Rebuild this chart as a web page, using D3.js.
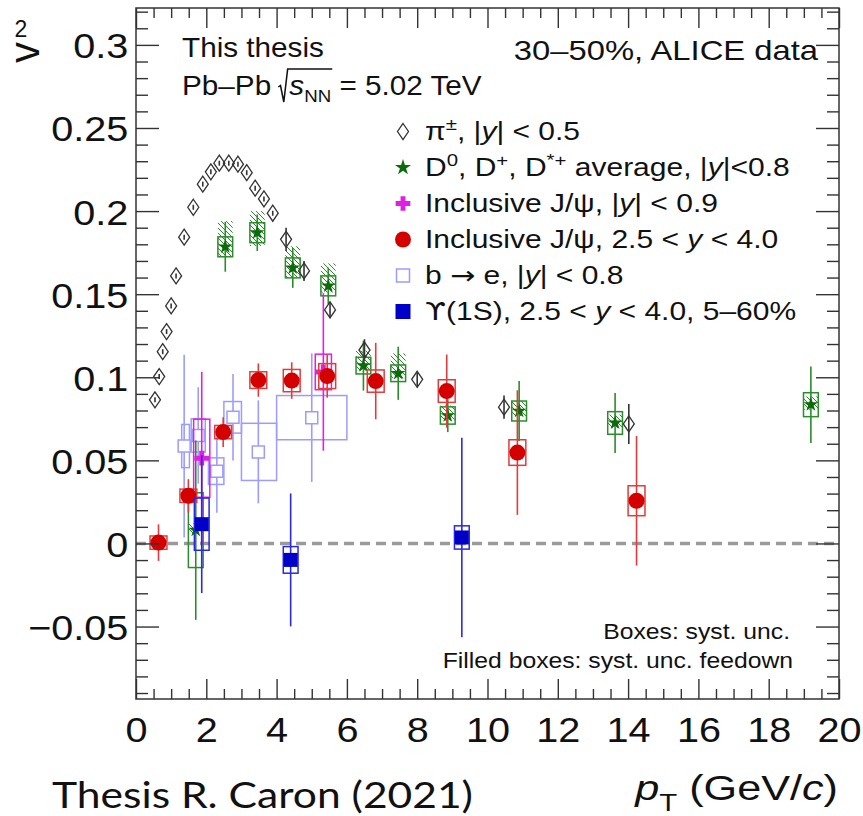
<!DOCTYPE html>
<html>
<head>
<meta charset="utf-8">
<script src="https://cdn.jsdelivr.net/npm/d3@7"></script>
<style>
    body { margin: 0; background: #fff; overflow: hidden; }
    text { font-family: "Liberation Sans", Arial, Helvetica, sans-serif; fill: #111; white-space: pre; }
</style>
</head>
<body>
<svg id="chart" width="863" height="816"></svg>
<script>
// axis ticks
const xTicks = [0, 2, 4, 6, 8, 10, 12, 14, 16, 18, 20];
const xTickLabels = ['0', '2', '4', '6', '8', '10', '12', '14', '16', '18', '20'];
const yTicks = [-0.05, 0, 0.05, 0.1, 0.15, 0.2, 0.25, 0.3];
const yTickLabels = ['\u22120.05', '0', '0.05', '0.1', '0.15', '0.2', '0.25', '0.3'];

// pi+-, |y| < 0.5
const pionPt  = [0.54, 0.66, 0.76, 0.87, 1.00, 1.14, 1.37, 1.63, 1.90, 2.13, 2.37, 2.64, 2.90, 3.15, 3.39, 3.64, 3.89, 4.27, 4.78, 5.52, 6.50, 8.00, 10.47, 14.02];
const pionV2  = [0.0864, 0.1004, 0.1154, 0.1275, 0.1429, 0.161, 0.1843, 0.2023, 0.2162, 0.2236, 0.2288, 0.2288, 0.2282, 0.2231, 0.2138, 0.2073, 0.1987, 0.183, 0.164, 0.1405, 0.1164, 0.0988, 0.082, 0.0719];
const pionErr = [0.0015, 0.0015, 0.0015, 0.0015, 0.0015, 0.0015, 0.0015, 0.0015, 0.0015, 0.0015, 0.0015, 0.0015, 0.0015, 0.0015, 0.0015, 0.0015, 0.0015, 0.007, 0.006, 0.005, 0.0065, 0.004, 0.007, 0.012];

// D0, D+, D*+ average, |y| < 0.8
const dPt   = [1.70, 2.54, 3.45, 4.46, 5.47, 6.47, 7.46, 8.87, 10.90, 13.63, 19.20];
const dV2   = [0.008, 0.1785, 0.187, 0.1658, 0.155, 0.107, 0.1024, 0.077, 0.0797, 0.0725, 0.0835];
const dStat = [0.054, 0.015, 0.011, 0.012, 0.011, 0.015, 0.016, 0.010, 0.018, 0.018, 0.023];
const dSyst = [0.0225, 0.006, 0.006, 0.006, 0.006, 0.005, 0.005, 0.0052, 0.006, 0.0068, 0.0072];
const dFdHi = [0.004, 0.0155, 0.013, 0.013, 0.0135, 0.009, 0.012, 0.006, 0.006, 0.005, 0.005];
const dFdLo = [0.002, 0.006, 0.008, 0.006, 0.004, 0.003, 0.003, 0.003, 0.003, 0.003, 0.003];

// inclusive J/psi, |y| < 0.9
const jpsiMidPt   = [1.87, 5.33];
const jpsiMidV2   = [0.0513, 0.1032];
const jpsiMidStat = [0.052, 0.0474];
const jpsiMidSyst = [0.0235, 0.0107];

// inclusive J/psi, 2.5 < y < 4.0
const jpsiFwdPt   = [0.64, 1.49, 2.48, 3.48, 4.43, 5.44, 6.82, 8.84, 10.85, 14.24];
const jpsiFwdV2   = [0.0005, 0.0287, 0.067, 0.0983, 0.098, 0.1007, 0.0977, 0.0917, 0.0547, 0.0257];
const jpsiFwdStat = [0.011, 0.010, 0.009, 0.010, 0.011, 0.013, 0.023, 0.022, 0.0375, 0.039];
const jpsiFwdSyst = [0.004, 0.004, 0.004, 0.005, 0.0067, 0.0075, 0.0067, 0.0068, 0.0077, 0.009];

// b -> e, |y| < 0.8
const bePt    = [1.37, 1.77, 2.30, 2.76, 3.48, 5.00];
const beV2    = [0.0586, 0.065, 0.0435, 0.0759, 0.0551, 0.0757];
const beStat  = [0.055, 0.029, 0.025, 0.026, 0.031, 0.0387];
const beSyst  = [0.013, 0.010, 0.008, 0.0095, 0.0172, 0.0133];
const beBinLo = [1.30, 1.57, 2.06, 2.50, 3.00, 4.00];
const beBinHi = [1.52, 1.97, 2.50, 3.00, 4.00, 6.00];

// Upsilon(1S), 2.5 < y < 4.0, 5-60%
const upsPt   = [1.87, 4.40, 9.27];
const upsV2   = [0.0116, -0.0099, 0.0036];
const upsStat = [0.0415, 0.040, 0.060];
const upsSyst = [0.0157, 0.008, 0.007];

const svg = d3.select('#chart');
const frame = { left: 136, right: 839, top: 8, bottom: 699 };

const x = d3.scaleLinear().domain([0, 20]).range([frame.left, frame.right]);
const y = d3.scaleLinear().domain([-0.0936, 0.3222]).range([frame.bottom, frame.top]);

const green = '#2a8c2a', greenDark = '#0b6b0b';
const red = '#d40000', redBox = '#e23b3b';
const magenta = '#e020e0';
const lightBlue = '#9c9cff';
const blue = '#0000c8', blueLine = '#2a2ae0';

svg.append('defs').append('pattern')
    .attr('id', 'hatch')
    .attr('patternUnits', 'userSpaceOnUse')
    .attr('width', 5).attr('height', 5)
    .append('path')
    .attr('d', 'M-1,-1 L6,6 M-1,4 L1,6 M4,-1 L6,1')
    .attr('stroke', green).attr('stroke-width', 1);

// zero line
svg.append('line')
    .attr('x1', x(0)).attr('x2', x(20))
    .attr('y1', y(0)).attr('y2', y(0))
    .attr('stroke', '#9a9a9a').attr('stroke-width', 3.5)
    .attr('stroke-dasharray', '10,6');

function rows(pt, cols) {
    return pt.map((p, i) => {
        const r = { pt: p };
        Object.entries(cols).forEach(([k, arr]) => r[k] = arr[i]);
        return r;
    });
}

function drawSeries(data, o) {
    const g = svg.append('g');
    const lo = d => d.lo !== undefined ? d.lo : d.pt - o.half;
    const hi = d => d.hi !== undefined ? d.hi : d.pt + o.half;

    if (o.hatch) {
        g.selectAll('.fd').data(data).join('rect')
            .attr('x', d => x(lo(d)))
            .attr('width', d => x(hi(d)) - x(lo(d)))
            .attr('y', d => y(d.v2 + d.fdHi))
            .attr('height', d => y(d.v2 - d.fdLo) - y(d.v2 + d.fdHi))
            .attr('fill', 'url(#hatch)');
    }
    if (o.boxColor) {
        g.selectAll('.box').data(data).join('rect')
            .attr('x', d => x(lo(d)))
            .attr('width', d => x(hi(d)) - x(lo(d)))
            .attr('y', d => y(d.v2 + d.syst))
            .attr('height', d => y(d.v2 - d.syst) - y(d.v2 + d.syst))
            .attr('fill', 'none')
            .attr('stroke', o.boxColor).attr('stroke-width', 1.5);
    }
    g.selectAll('.err').data(data).join('line')
        .attr('x1', d => x(d.pt)).attr('x2', d => x(d.pt))
        .attr('y1', d => y(d.v2 + d.stat)).attr('y2', d => y(d.v2 - d.stat))
        .attr('stroke', o.lineColor).attr('stroke-width', 1.6);

    g.selectAll('.mk').data(data).join('path')
        .attr('transform', d => `translate(${x(d.pt)},${y(d.v2)})`)
        .attr('d', o.shape)
        .attr('fill', o.fill)
        .attr('stroke', o.stroke || 'none')
        .attr('stroke-width', o.strokeWidth || 0);
}

const shapes = {
    diamond: 'M0,-8L5.5,0L0,8L-5.5,0Z',
    star: d3.symbol(d3.symbolStar, 65)(),
    cross: d3.symbol(d3.symbolCross, 120)(),
    circle: d3.symbol(d3.symbolCircle, Math.PI * 64)(),
    openSquare: 'M-6,-6H6V6H-6Z',
    square: 'M-7,-7H7V7H-7Z'
};

drawSeries(rows(bePt, { v2: beV2, stat: beStat, syst: beSyst, lo: beBinLo, hi: beBinHi }), {
    boxColor: lightBlue, lineColor: lightBlue,
    shape: shapes.openSquare, fill: '#fff', stroke: lightBlue, strokeWidth: 1.5
});

drawSeries(rows(dPt, { v2: dV2, stat: dStat, syst: dSyst, fdHi: dFdHi, fdLo: dFdLo }), {
    half: 0.21, hatch: true, boxColor: green, lineColor: green,
    shape: shapes.star, fill: greenDark
});

drawSeries(rows(pionPt, { v2: pionV2, stat: pionErr }), {
    lineColor: '#333',
    shape: shapes.diamond, fill: 'none', stroke: '#333', strokeWidth: 1.3
});

drawSeries(rows(jpsiMidPt, { v2: jpsiMidV2, stat: jpsiMidStat, syst: jpsiMidSyst }), {
    half: 0.23, boxColor: magenta, lineColor: magenta,
    shape: shapes.cross, fill: magenta
});

drawSeries(rows(jpsiFwdPt, { v2: jpsiFwdV2, stat: jpsiFwdStat, syst: jpsiFwdSyst }), {
    half: 0.24, boxColor: redBox, lineColor: redBox,
    shape: shapes.circle, fill: red
});

drawSeries(rows(upsPt, { v2: upsV2, stat: upsStat, syst: upsSyst }), {
    half: 0.21, boxColor: blueLine, lineColor: blueLine,
    shape: shapes.square, fill: blue
});

// axes: major and minor ticks on all four sides
function ticks(axis, transform, values, size, fmt) {
    const g = svg.append('g')
        .attr('transform', transform)
        .call(axis.tickValues(values).tickSize(size).tickSizeOuter(0).tickFormat(fmt || ''));
    g.select('.domain').remove();
    g.selectAll('line').attr('stroke', '#333').attr('stroke-width', 1.4);
    return g;
}

const xMinor = d3.range(0, 20.01, 0.5).filter(v => Math.abs(v / 2 - Math.round(v / 2)) > 1e-6);
const yMinor = d3.range(-9, 33).map(v => v / 100).filter(v => Math.abs(v * 20 - Math.round(v * 20)) > 1e-6);

const xAxis = ticks(d3.axisBottom(x).tickPadding(17), `translate(0,${frame.bottom})`, xTicks, -20,
    d => xTickLabels[xTicks.indexOf(d)]);
xAxis.selectAll('text').attr('font-size', 36).attr('fill', '#111')
    .attr('transform', 'scale(1.1,1)');
ticks(d3.axisBottom(x), `translate(0,${frame.bottom})`, xMinor, -10);
ticks(d3.axisTop(x), `translate(0,${frame.top})`, xTicks, -20);
ticks(d3.axisTop(x), `translate(0,${frame.top})`, xMinor, -10);

const yAxis = ticks(d3.axisLeft(y).tickPadding(7), `translate(${frame.left},0)`, yTicks, -23,
    d => yTickLabels[yTicks.indexOf(d)]);
yAxis.selectAll('text').attr('font-size', 36).attr('fill', '#111')
    .attr('dy', '0.36em').attr('transform', 'scale(1.1,1)');
ticks(d3.axisLeft(y), `translate(${frame.left},0)`, yMinor, -12);
ticks(d3.axisRight(y), `translate(${frame.right},0)`, yTicks, -23);
ticks(d3.axisRight(y), `translate(${frame.right},0)`, yMinor, -12);

svg.append('rect')
    .attr('x', frame.left).attr('y', frame.top)
    .attr('width', frame.right - frame.left).attr('height', frame.bottom - frame.top)
    .attr('fill', 'none').attr('stroke', '#333').attr('stroke-width', 1.5);

// text helper: segments are strings or [string, 'it'|'sup'|'sub'|'sym']
function richText(tx, ty, segs, fs, sx, anchor) {
    const g = svg.append('g').attr('transform', `translate(${tx},${ty}) scale(${sx},1)`);
    const t = g.append('text').attr('font-size', fs).attr('text-anchor', anchor || 'start');
    let shift = 0;
    segs.forEach(s => {
        const [str, kind] = typeof s === 'string' ? [s, ''] : s;
        const ts = t.append('tspan').text(str);
        const target = kind === 'sup' ? -0.42 * fs : kind === 'sub' ? 0.3 * fs : 0;
        if (target !== shift) { ts.attr('dy', target - shift); shift = target; }
        if (kind === 'sup' || kind === 'sub') ts.attr('font-size', fs * 0.68);
        if (kind === 'it') ts.attr('font-style', 'italic');
        if (kind === 'sym') ts.style('font-family', '"DejaVu Sans", sans-serif');
    });
    return { g, t };
}

richText(182, 57, ['This thesis'], 27, 1.1);

// Pb-Pb sqrt(s_NN) line with a drawn radical
const pb = svg.append('g').attr('transform', 'translate(182,95) scale(1.1,1)');
const pbText = pb.append('text').attr('font-size', 27);
pbText.append('tspan').text('Pb\u2013Pb ');
pbText.append('tspan').attr('dx', 9).attr('font-style', 'italic').text('s');
pbText.append('tspan').attr('dy', 7).attr('font-size', 17).text('NN');
pbText.append('tspan').attr('dy', -7).text(' = 5.02 TeV');
const sBox = pbText.node().getExtentOfChar(6);
const nnBox = pbText.node().getExtentOfChar(8);
const r0 = sBox.x;
const r1 = nnBox.x + nnBox.width + 1;
pb.append('path')
    .attr('d', `M${r0 - 10},-8 L${r0 - 8},-9.5 L${r0 - 5},7 L${r0 - 1.5},-26 L${r1},-26`)
    .attr('fill', 'none').attr('stroke', '#111').attr('stroke-width', 1.4);

richText(818, 60, ['30\u201350%, ALICE data'], 28, 1.17, 'end');

// legend
const legendRows = [
    { shape: shapes.diamond, fill: 'none', stroke: '#333', sw: 1.3,
      segs: ['\u03c0', ['\u00b1', 'sup'], ', |', ['y', 'it'], '| < 0.5'] },
    { shape: d3.symbol(d3.symbolStar, 80)(), fill: greenDark,
      segs: ['D', ['0', 'sup'], ', D', ['+', 'sup'], ', D', ['*+', 'sup'], ' average, |', ['y', 'it'], '|<0.8'] },
    { shape: shapes.cross, fill: magenta,
      segs: ['Inclusive J/\u03c8, |', ['y', 'it'], '| < 0.9'] },
    { shape: shapes.circle, fill: red,
      segs: ['Inclusive J/\u03c8, 2.5 < ', ['y', 'it'], ' < 4.0'] },
    { shape: 'M-6.5,-6.5H6.5V6.5H-6.5Z', fill: '#fff', stroke: lightBlue, sw: 1.5,
      segs: ['b ', ['\u2192', 'sym'], ' e, |', ['y', 'it'], '| < 0.8'] },
    { shape: 'M-7.5,-7.5H7.5V7.5H-7.5Z', fill: blue,
      segs: [['\u03d2', 'sym'], '(1S), 2.5 < ', ['y', 'it'], ' < 4.0, 5\u201360%'] }
];
const legendBase = [140, 176, 212, 248, 284, 320];
legendRows.forEach((r, i) => {
    svg.append('path')
        .attr('transform', `translate(403,${legendBase[i] - 8.5})`)
        .attr('d', r.shape)
        .attr('fill', r.fill)
        .attr('stroke', r.stroke || 'none')
        .attr('stroke-width', r.sw || 0);
    richText(425, legendBase[i], r.segs, 25, 1.2);
});

richText(790, 639, ['Boxes: syst. unc.'], 21.5, 1.15, 'end');
richText(793, 668, ['Filled boxes: syst. unc. feedown'], 21.5, 1.15, 'end');

// axis titles
richText(838, 800, [['p', 'it'], ['T', 'sub'], ' (GeV/', ['c', 'it'], ')'], 36, 1.2, 'end');

svg.append('g')
    .attr('transform', 'translate(39,63) rotate(-90)')
    .append('text').attr('font-size', 42).text('v');
svg.append('text')
    .attr('x', 21).attr('y', 37)
    .attr('text-anchor', 'middle').attr('font-size', 23)
    .text('2');

svg.append('text')
    .attr('x', 52).attr('y', 808)
    .attr('font-size', 36)
    .attr('textLength', 421).attr('lengthAdjust', 'spacingAndGlyphs')
    .style('font-family', 'Lato, "Open Sans", sans-serif')
    .text('Thesis R. Caron (2021)');
</script>
</body>
</html>
